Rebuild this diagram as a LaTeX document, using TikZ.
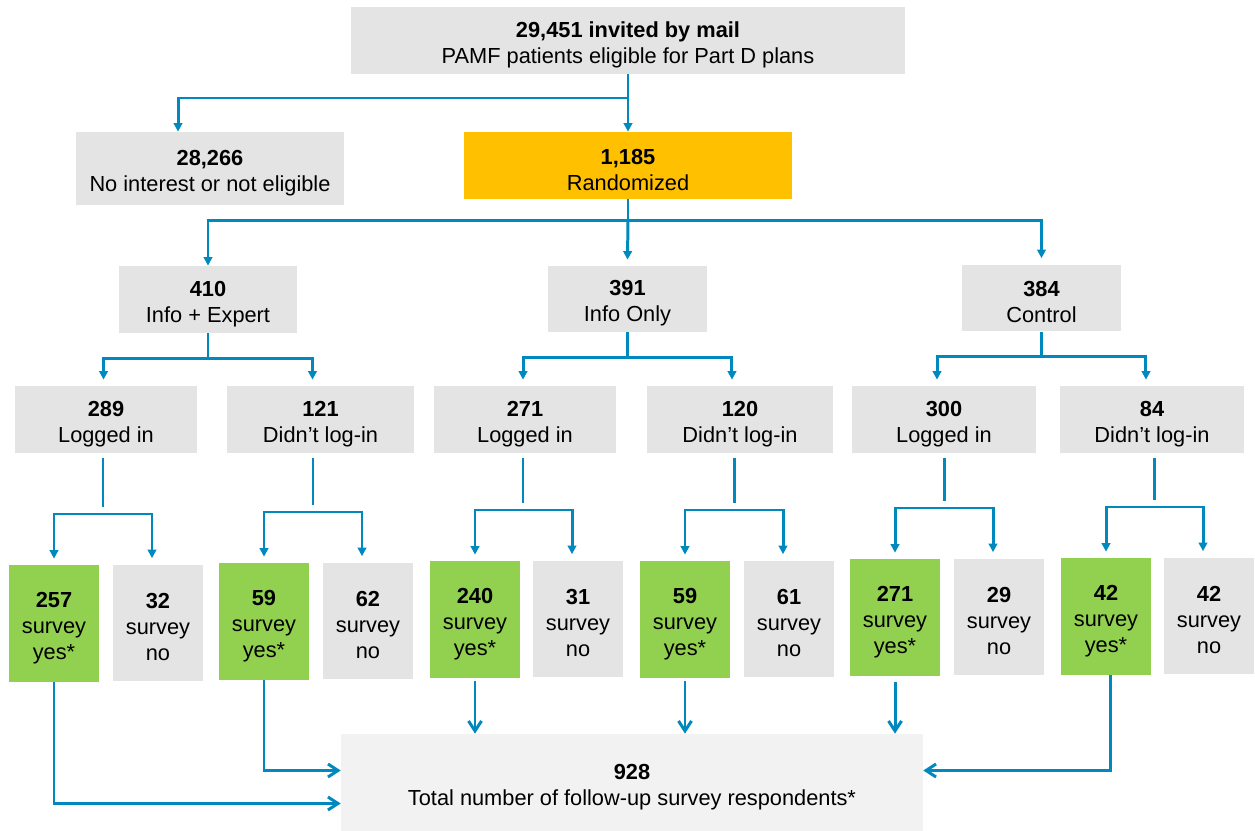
\documentclass[tikz,border=0pt]{standalone}
\usepackage{fontspec}
\setmainfont{Liberation Sans}
\usetikzlibrary{arrows.meta}
\definecolor{flowblue}{RGB}{0,137,190}
\definecolor{boxgray}{RGB}{228,228,228}
\definecolor{totalgray}{RGB}{242,242,242}
\definecolor{randgold}{RGB}{255,192,0}
\definecolor{yesgreen}{RGB}{146,208,80}
\newcommand\headline[1]{\rule{0pt}{13.4pt}\textbf{#1}}
\begin{document}
\begin{tikzpicture}[x=0.02cm,y=-0.02cm,
  every node/.style={font=\fontsize{12.4}{14.8}\selectfont,align=center,inner sep=0pt},
  graybox/.style={fill=boxgray,minimum height=1.34cm},
  goldbox/.style={fill=randgold,minimum height=1.34cm},
  surveyno/.style={fill=boxgray,minimum width=1.8cm,minimum height=2.34cm},
  surveyyes/.style={fill=yesgreen,minimum width=1.8cm,minimum height=2.34cm},
  totalbox/.style={fill=totalgray,minimum width=11.64cm,minimum height=1.94cm},
  link/.style={draw=flowblue,line width=1.7pt},
  branch/.style={link,-{Triangle[length=0.17cm,width=0.17cm]}},
  feed/.style={link,-{Straight Barb[length=0.2cm,width=0.26cm]}}]
\useasboundingbox (0,0) rectangle (1255,831);
% top levels
\node[graybox,minimum width=11.08cm] (top) at (628,40.5) {\headline{29,451 invited by mail}\\PAMF patients eligible for Part D plans};
\node[graybox,minimum width=5.36cm,minimum height=1.46cm] (nonint) at (210,168.5) {\headline{28,266}\\No interest or not eligible};
\node[goldbox,minimum width=6.56cm] (rand) at (628,165.5) {\headline{1,185}\\Randomized};
\node[graybox,minimum width=3.56cm] (g1) at (208,299.5) {\headline{410}\\Info + Expert};
\node[graybox,minimum width=3.18cm,minimum height=1.32cm] (g2) at (627.5,299) {\headline{391}\\Info Only};
\node[graybox,minimum width=3.2cm] (g3) at (1041.5,298) {\headline{384}\\Control};
% login split
\node[graybox,minimum width=3.64cm] (l1) at (106,419.5) {\headline{289}\\Logged in};
\node[graybox,minimum width=3.74cm] (l2) at (320.5,419.5) {\headline{121}\\Didn’t log-in};
\node[graybox,minimum width=3.64cm] (l3) at (525,419.5) {\headline{271}\\Logged in};
\node[graybox,minimum width=3.72cm] (l4) at (740,419.5) {\headline{120}\\Didn’t log-in};
\node[graybox,minimum width=3.68cm] (l5) at (944,419.5) {\headline{300}\\Logged in};
\node[graybox,minimum width=3.68cm] (l6) at (1152,419.5) {\headline{84}\\Didn’t log-in};
% survey answers
\node[surveyyes] (y1) at (54,623.5) {\headline{257}\\survey\\yes*};
\node[surveyno] (n1) at (158,623) {\headline{32}\\survey\\no};
\node[surveyyes] (y2) at (264,621.5) {\headline{59}\\survey\\yes*};
\node[surveyno] (n2) at (368,621) {\headline{62}\\survey\\no};
\node[surveyyes] (y3) at (475,619.5) {\headline{240}\\survey\\yes*};
\node[surveyno] (n3) at (578,619) {\headline{31}\\survey\\no};
\node[surveyyes] (y4) at (685,619.5) {\headline{59}\\survey\\yes*};
\node[surveyno] (n4) at (789,619) {\headline{61}\\survey\\no};
\node[surveyyes] (y5) at (895,617.5) {\headline{271}\\survey\\yes*};
\node[surveyno] (n5) at (999,617) {\headline{29}\\survey\\no};
\node[surveyyes] (y6) at (1106,616.5) {\headline{42}\\survey\\yes*};
\node[surveyno] (n6) at (1209,616) {\headline{42}\\survey\\no};
\node[totalbox] (tot) at (632,782.5) {\headline{928}\\Total number of follow-up survey respondents*};
% connectors, upper part
\coordinate (t0) at (628,98);
\draw[link] (top.south) -- (t0);
\draw[branch] (t0) -| ([xshift=-0.64cm]nonint.north);
\draw[branch] (t0) -- (rand.north);
\draw[link] (rand.south) -- ++(0,21) coordinate (r0);
\draw[branch] (r0) -| (g1.north);
\draw[branch] (r0) -- ([yshift=0.12cm]g2.north);
\draw[branch] (r0) -| ([yshift=0.12cm]g3.north);
\foreach \g/\a/\b in {g1/l1/l2,g2/l3/l4,g3/l5/l6}{
  \draw[link] (\g.south) -- ++(0,25) coordinate (\g j);
  \draw[branch,shorten >=0.12cm] (\g j) -| ([xshift=-2.09cm]\g j |- \a.north);
  \draw[branch,shorten >=0.12cm] (\g j) -| ([xshift=2.09cm]\g j |- \b.north);
}
% connectors to survey answers
\coordinate (s1) at (103,514);
\coordinate (s2) at (313,512);
\coordinate (s3) at (523,510);
\coordinate (s4) at (734,510);
\coordinate (s5) at (944,508);
\coordinate (s6) at (1154,507);
\foreach \i in {1,...,6}{
  \draw[link] ([yshift=-0.1cm]l\i.south -| s\i) -- ([yshift=0.14cm]s\i);
  \draw[branch,shorten >=0.12cm] (s\i) -| (y\i.north);
  \draw[branch,shorten >=0.12cm] (s\i) -| ([xshift=-0.12cm]n\i.north);
}
% connectors to the total
\draw[feed] (y1.south) |- ([yshift=-0.42cm]tot.west);
\draw[feed] (y2.south) |- ([yshift=0.24cm]tot.west);
\draw[feed] ([yshift=-0.06cm]y3.south) -- (y3.south |- tot.north);
\draw[feed] ([yshift=-0.06cm]y4.south) -- (y4.south |- tot.north);
\draw[feed] ([yshift=-0.12cm]y5.south) -- (y5.south |- tot.north);
\draw[feed] ([xshift=0.08cm]y6.south) |- ([yshift=0.24cm]tot.east);
\end{tikzpicture}
\end{document}
